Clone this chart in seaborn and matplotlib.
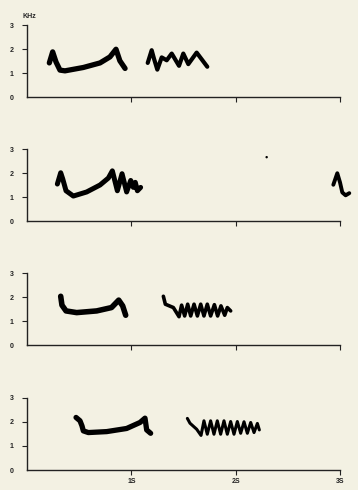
import matplotlib
matplotlib.use("Agg")
import matplotlib.pyplot as plt
import seaborn as sns
import pandas as pd

# ---- data: (time s, frequency kHz) ----
p1a_t = [0.214, 0.246, 0.278, 0.316, 0.364, 0.54, 0.70, 0.795, 0.853, 0.89, 0.94]
p1a_f = [1.42, 1.88, 1.46, 1.12, 1.09, 1.23, 1.42, 1.67, 1.99, 1.51, 1.19]
p1b_t = [1.157, 1.195, 1.217, 1.249, 1.291, 1.339, 1.387, 1.457, 1.498, 1.546, 1.626, 1.728]
p1b_f = [1.42, 1.95, 1.60, 1.14, 1.65, 1.53, 1.81, 1.30, 1.81, 1.37, 1.85, 1.26]

p2a_t = [0.291, 0.323, 0.342, 0.374, 0.444, 0.572, 0.70, 0.78, 0.818, 0.866, 0.911, 0.955, 0.994, 1.019, 1.038, 1.058, 1.089]
p2a_f = [1.54, 2.01, 1.76, 1.26, 1.04, 1.21, 1.50, 1.79, 2.09, 1.26, 1.97, 1.21, 1.69, 1.40, 1.61, 1.26, 1.40]
p2b_t = [2.936, 2.974, 3.0, 3.022, 3.054, 3.089]
p2b_f = [1.51, 1.99, 1.61, 1.19, 1.07, 1.16]
p2_dot_t = [2.297]
p2_dot_f = [2.66]

p3a_t = [0.323, 0.335, 0.374, 0.476, 0.668, 0.81, 0.879, 0.917, 0.946]
p3a_f = [2.03, 1.66, 1.42, 1.35, 1.42, 1.56, 1.87, 1.63, 1.24]
p3b_t = [1.307, 1.326, 1.403, 1.457, 1.482, 1.511, 1.540, 1.569, 1.601, 1.633, 1.665, 1.696,
         1.728, 1.760, 1.796, 1.827, 1.859, 1.895, 1.920, 1.952]
p3b_f = [2.03, 1.70, 1.56, 1.18, 1.66, 1.21, 1.70, 1.21, 1.70, 1.21, 1.70, 1.21,
         1.70, 1.21, 1.68, 1.21, 1.63, 1.24, 1.56, 1.42]

p4a_t = [0.470, 0.508, 0.527, 0.540, 0.588, 0.764, 0.955, 1.083, 1.131, 1.147, 1.185]
p4a_f = [2.19, 2.05, 1.84, 1.63, 1.56, 1.60, 1.73, 1.98, 2.16, 1.67, 1.53]
p4b_t = [1.537, 1.562, 1.626, 1.668, 1.696, 1.728, 1.760, 1.792, 1.824, 1.856, 1.888, 1.920,
         1.952, 1.984, 2.016, 2.048, 2.080, 2.112, 2.144, 2.176, 2.208, 2.227]
p4b_f = [2.15, 1.95, 1.70, 1.44, 2.05, 1.49, 2.05, 1.49, 2.05, 1.49, 2.05, 1.49,
         2.02, 1.49, 2.02, 1.53, 2.01, 1.53, 1.98, 1.56, 1.94, 1.67]

y_ticks = [0, 1, 2, 3]
y_labels = ["0", "1", "2", "3"]
x_ticks = [1, 2, 3]
x_labels = ["1S", "2S", "3S"]
y_unit = "KHz"

panels = [
    [(p1a_t, p1a_f, 3.8), (p1b_t, p1b_f, 3.0)],
    [(p2a_t, p2a_f, 3.6), (p2b_t, p2b_f, 2.8)],
    [(p3a_t, p3a_f, 4.0), (p3b_t, p3b_f, 2.6)],
    [(p4a_t, p4a_f, 3.8), (p4b_t, p4b_f, 2.2)],
]

bg = "#f3f1e3"
sns.set_theme(style="ticks")
plt.rcParams["font.family"] = ["Liberation Sans", "DejaVu Sans"]

fig = plt.figure(figsize=(3.58, 4.90), dpi=100, facecolor=bg)
left = 27 / 358
width = 313 / 358
height = 72 / 490
bottoms = [1 - 97 / 490, 1 - 221 / 490, 1 - 345 / 490, 1 - 470 / 490]

for i, (segs, b) in enumerate(zip(panels, bottoms)):
    ax = fig.add_axes([left, b, width, height])
    ax.set_facecolor(bg)
    for j, (t, f, lw) in enumerate(segs):
        df = pd.DataFrame({"t": t, "f": f})
        sns.lineplot(data=df, x="t", y="f", sort=False, estimator=None, color="black",
                     linewidth=lw, ax=ax, clip_on=False, solid_joinstyle="round",
                     solid_capstyle="round")
    if i == 1:
        ddf = pd.DataFrame({"t": p2_dot_t, "f": p2_dot_f})
        sns.scatterplot(data=ddf, x="t", y="f", color="black", s=3, ax=ax, clip_on=False,
                        edgecolor="none")
    ax.set_xlim(0, 3)
    ax.set_ylim(0, 3)
    sns.despine(ax=ax)
    for s in ["left", "bottom"]:
        ax.spines[s].set_linewidth(1.0)
        ax.spines[s].set_color("#222222")
    ax.set_yticks(y_ticks)
    ax.set_yticklabels(y_labels, fontsize=5, fontweight="bold")
    ax.set_xticks(x_ticks)
    if i == 3:
        ax.set_xticklabels(x_labels, fontsize=5, fontweight="bold")
    else:
        ax.set_xticklabels([])
    ax.tick_params(axis="y", length=3.5, width=0.8, pad=6, colors="#222222")
    ax.tick_params(axis="x", length=3.5, width=0.8, pad=2, colors="#222222")
    ax.yaxis.get_major_ticks()[0].tick1line.set_visible(False)
    ax.set_xlabel("")
    ax.set_ylabel("")
    if i == 0:
        ax.text(0.02, 3.2, y_unit, fontsize=5, fontweight="bold", ha="center", va="bottom",
                transform=ax.transData)

fig.savefig("out.png", dpi=100, facecolor=bg)
